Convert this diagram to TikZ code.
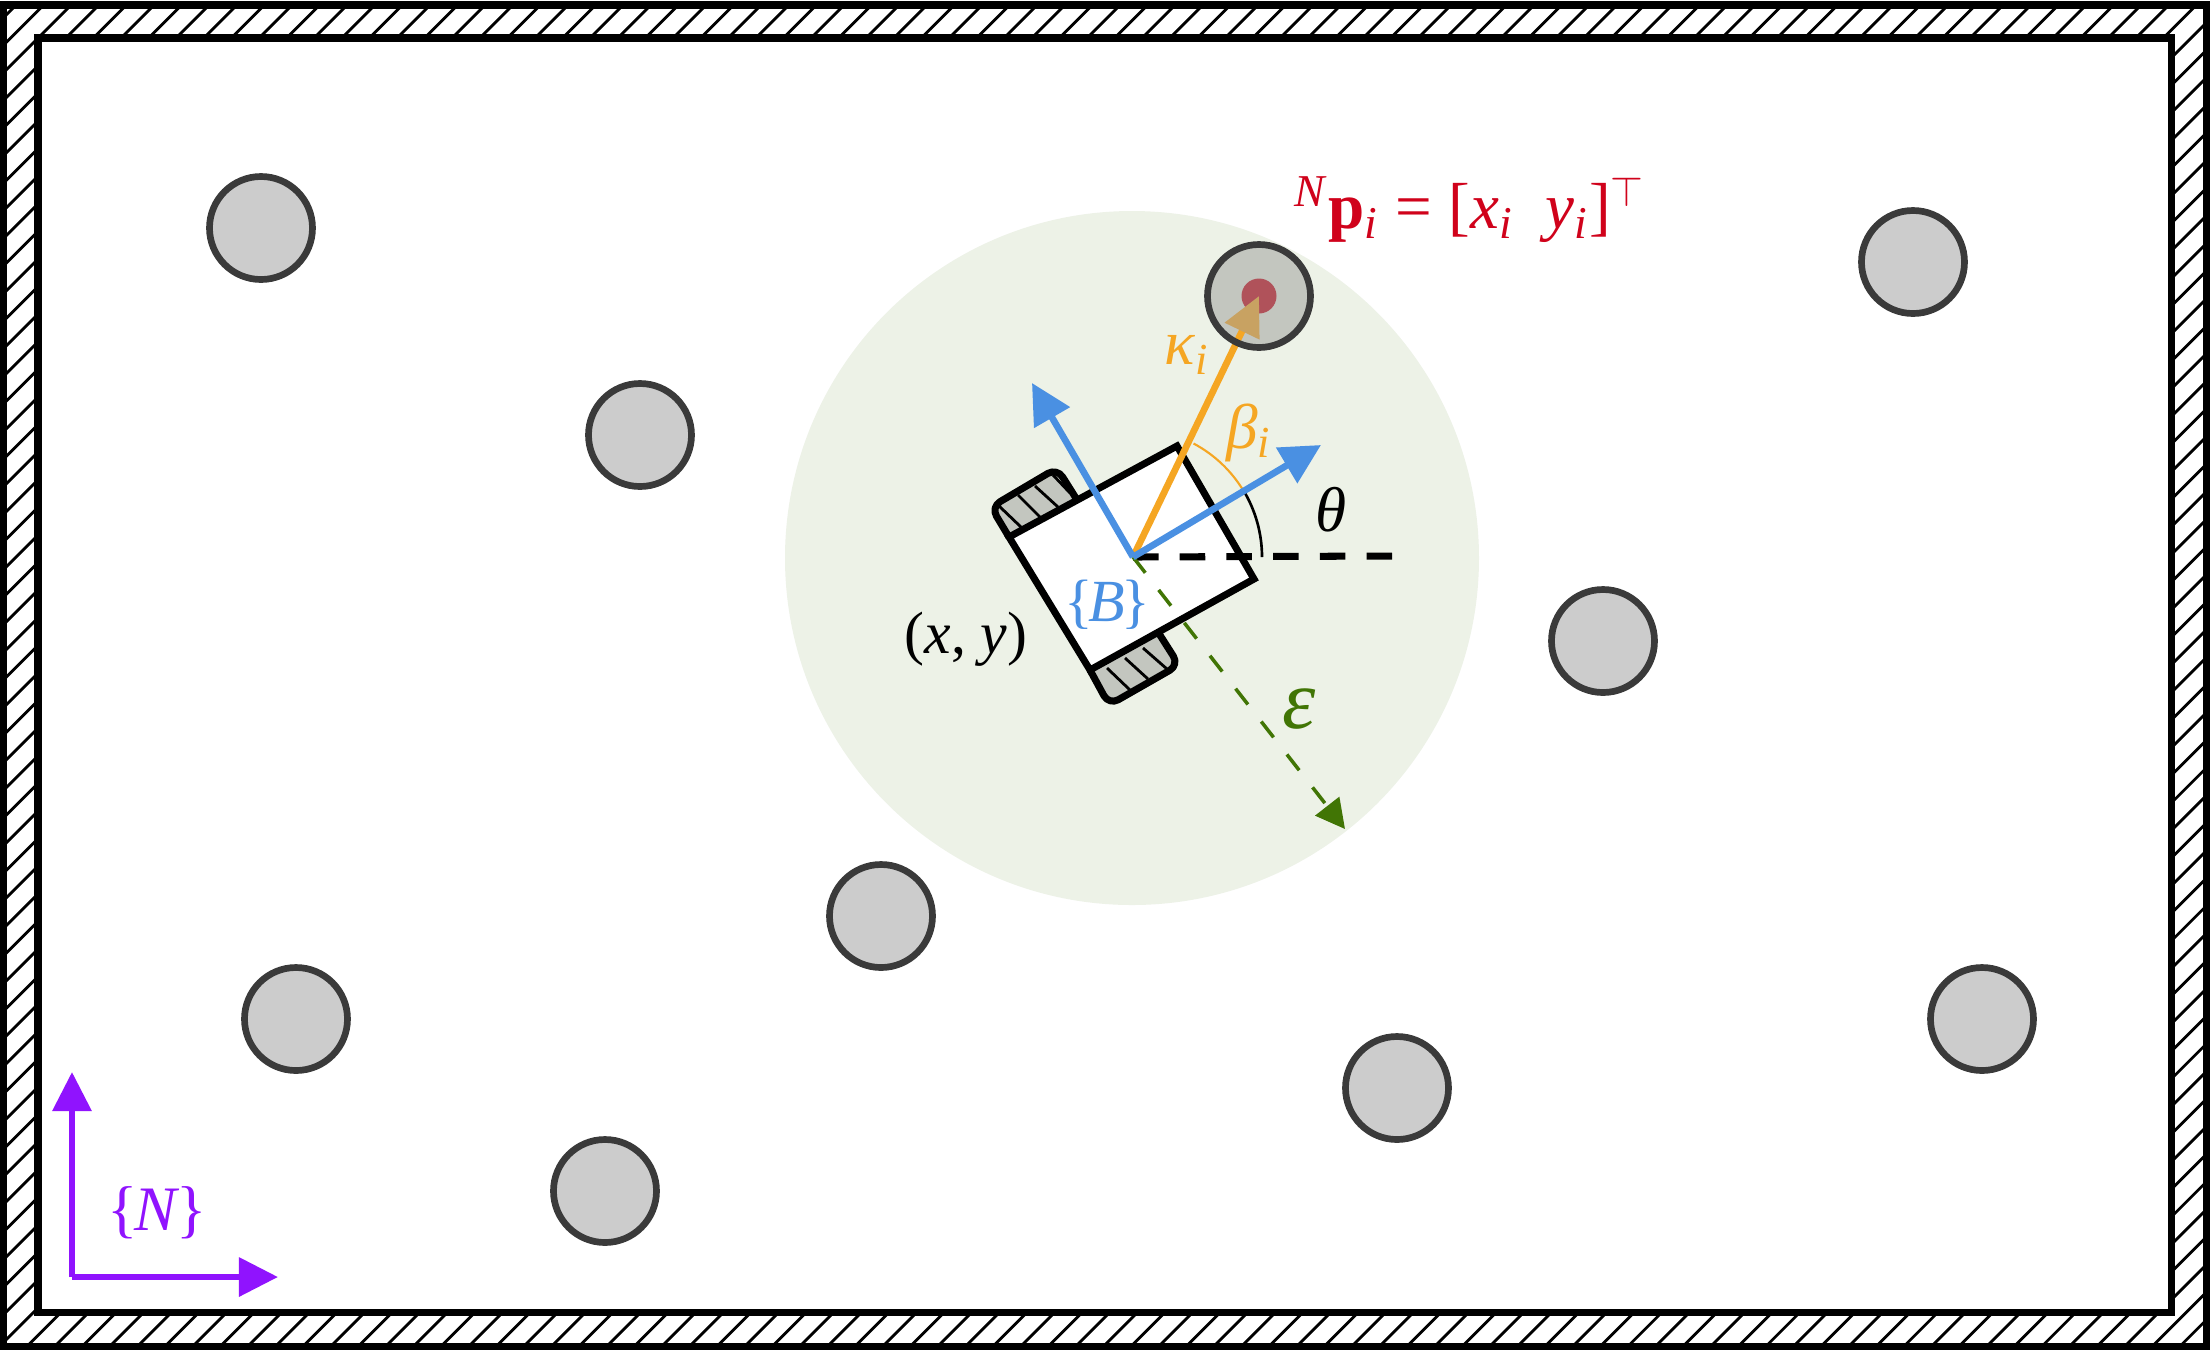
\documentclass[tikz,border=0pt]{standalone}
\usepackage{fontspec}
\setmainfont{Liberation Serif}
\usetikzlibrary{arrows.meta}

\definecolor{obstaclegray}{HTML}{CCCCCC}
\definecolor{obstacleedge}{HTML}{3A3A3A}
\definecolor{wheelgray}{HTML}{C3C6BF}
\definecolor{rangegreen}{HTML}{417505}
\definecolor{bodyblue}{HTML}{4A90E2}
\definecolor{bearingorange}{HTML}{F5A623}
\definecolor{pointred}{HTML}{D0021B}
\definecolor{pointmuted}{HTML}{B0525A}
\definecolor{headmuted}{HTML}{C8A262}
\definecolor{navpurple}{HTML}{9013FE}

\tikzset{
  obstacle/.style={fill=obstaclegray, draw=obstacleedge, line width=1.9pt},
  wheel/.style={fill=wheelgray, draw=black, line width=2pt, rounded corners=3pt, line join=round},
  wheelhatch/.style={black, line width=0.8pt},
  label/.style={font=\fontsize{18}{21}\selectfont, inner sep=0pt},
  bodyaxis/.style={-{Triangle[length=0.40cm, width=0.40cm]}, bodyblue, line width=1.9pt},
  navaxis/.style={-{Triangle[length=0.39cm, width=0.38cm]}, navpurple, line width=1.8pt}
}

\begin{document}
\begin{tikzpicture}[x=0.01cm, y=-0.01cm]
  \useasboundingbox (0, 0) rectangle (2211, 1350);

  % Hatched wall around the workspace
  \begin{scope}
    \clip (3.5, 5) rectangle (2206, 1346);
    \foreach \k in {0,...,129}
      \draw[black, line width=0.8pt] ({21+27.6*\k}, 0) -- ++(-1350, 1350);
  \end{scope}
  \draw[black, line width=2pt] (3.5, 5) rectangle (2206, 1346);
  \draw[black, line width=2pt, fill=white] (38, 38) rectangle (2171.5, 1312);

  % Obstacles
  \foreach \ox/\oy in {261/228, 640/435, 1913/262, 1603/641, 881/916,
                       296/1019, 605/1191, 1397/1088, 1982/1019}
    \draw[obstacle] (\ox, \oy) circle (51.5);

  % Sensing range
  \coordinate (robot) at (1133, 557);
  \fill[rangegreen, opacity=0.095] (1132, 558) circle (347);

  % Wheels
  \draw[wheel] (1009, 537) -- (991, 507) -- (1057, 468) -- (1079, 503);
  \draw[wheelhatch] (998, 505) -- (1022, 528);
  \draw[wheelhatch] (1018, 495) -- (1040, 517);
  \draw[wheelhatch] (1035, 486) -- (1058, 507);
  \draw[wheelhatch] (1053, 475) -- (1070, 493);

  \draw[wheel] (1090, 670) -- (1109, 705) -- (1179, 665) -- (1158, 632);
  \draw[wheelhatch] (1107, 668) -- (1130, 690);
  \draw[wheelhatch] (1125, 658) -- (1148, 679);
  \draw[wheelhatch] (1143, 648) -- (1167, 669);

  % Robot body
  \draw[black, line width=2pt, fill=white, line join=miter]
    (1177, 446) -- (1254, 579) -- (1090, 670) -- (1009, 537) -- cycle;

  % Heading reference line and range radius
  \coordinate (headingend) at (1392, 556);
  \coordinate (rangeend) at (1345, 829);
  \draw[black, line width=2pt, dash pattern=on 0.255cm off 0.212cm] (robot) -- (headingend);
  \draw[-{Triangle[length=0.29cm, width=0.30cm]}, rangegreen, line width=1pt,
    dash pattern=on 0.20cm off 0.217cm] (robot) -- (rangeend);

  % Angles
  \draw[black, line width=0.75pt] (1262, 557) arc[start angle=0, end angle=-31.5, radius=129];
  \draw[bearingorange, line width=0.6pt] (1243, 490) arc[start angle=-31.5, end angle=-62, radius=129];

  % Target obstacle with the measured point
  \coordinate (target) at (1259, 296);
  \fill[wheelgray] (target) circle (51.5);
  \fill[pointmuted] (target) circle (17.5);
  \draw[-{Triangle[length=0.39cm, width=0.37cm, color=headmuted]},
    bearingorange, line width=1.9pt] (robot) -- (target);
  \draw[obstacleedge, line width=1.9pt] (target) circle (51.5);

  % Body frame axes
  \coordinate (bodyx) at (1321, 445);
  \coordinate (bodyy) at (1032, 383);
  \draw[bodyaxis] (robot) -- (bodyx);
  \draw[bodyaxis] (robot) -- (bodyy);

  % Navigation frame axes
  \coordinate (navo) at (72, 1277);
  \coordinate (navx) at (278, 1277);
  \coordinate (navy) at (72, 1072);
  \draw[navaxis] (navo) -- (navx);
  \draw[navaxis] (navo) -- (navy);

  % Labels
  \node[label, navpurple] (labelN) at (157, 1213) {\{\kern-1pt\textit{N}\kern-1pt\}};
  \node[label, bodyblue, font=\fontsize{17}{20}\selectfont] (labelB) at (1107, 605) {\{\kern-1.2pt\textit{B}\kern-1.2pt\}};
  \node[label, font=\fontsize{17}{20}\selectfont] (labelpos) at (966, 639) {(\textit{x}, \textit{y})};
  \node[label] (labeltheta) at (1331, 510) {\textit{θ}};
  \node[label, bearingorange] (labelbeta) at (1249, 433) {\textit{β}\textsubscript{\textit{i}}};
  \node[label, bearingorange] (labelkappa) at (1187, 355) {\textit{κ}\textsubscript{\textit{i}}};
  \node[label, rangegreen, font=\fontsize{24}{26}\selectfont] (labeleps) at (1299, 709) {\textit{ε}};
  \node[label, pointred, font=\fontsize{18.5}{22}\selectfont] (labelpoint) at (1470, 210)
    {\textsuperscript{\textit{N}}\textbf{p}\textsubscript{\textit{i}} = [\textit{x}\textsubscript{\textit{i}}\ \ \textit{y}\textsubscript{\textit{i}}]$^{\top}$};
\end{tikzpicture}
\end{document}
